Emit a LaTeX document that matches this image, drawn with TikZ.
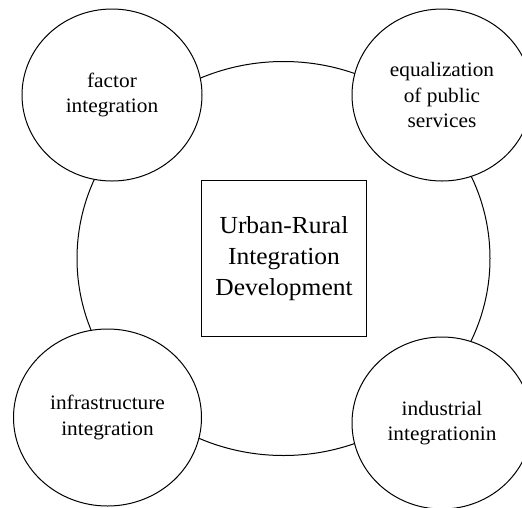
\documentclass[tikz,border=0pt]{standalone}
\usepackage{fontspec}
\setmainfont{Liberation Serif}[FakeStretch=1.04]
\usetikzlibrary{shapes.geometric}

\tikzset{
  line/.style={draw=black, line width=1pt},
  ring/.style={line, ellipse, inner sep=0pt, minimum width=413pt, minimum height=394pt},
  topic/.style={line, ellipse, fill=white, inner sep=0pt, align=center,
    font=\fontsize{20.5}{25.5}\selectfont},
  corebox/.style={line, rectangle, fill=white, inner sep=0pt, align=center,
    minimum width=165pt, minimum height=156pt,
    font=\fontsize{24.5}{31}\selectfont}
}

\begin{document}
\begin{tikzpicture}[x=1pt, y=-1pt]
  % page frame
  \clip (0,0) rectangle (522,507);
  \fill[white] (0,0) rectangle (522,507);

  % large ring linking the four themes
  \node[ring] (hub) at (283.5,258.5) {};

  % central box
  \node[corebox] (core) at (284,258.5) {Urban-Rural\\Integration\\Development};

  % four themes on the ring
  \node[topic, minimum width=180pt, minimum height=172pt] (factor) at (112,95)
    {factor\\integration};
  \node[topic, minimum width=180pt, minimum height=172pt] (public) at (442,95)
    {equalization\\of public\\services};
  \node[topic, minimum width=188pt, minimum height=177pt] (infra) at (107.5,417.5)
    {infrastructure\\integration};
  \node[topic, minimum width=180pt, minimum height=172pt] (industry) at (442,423)
    {industrial\\integrationin};
\end{tikzpicture}
\end{document}
